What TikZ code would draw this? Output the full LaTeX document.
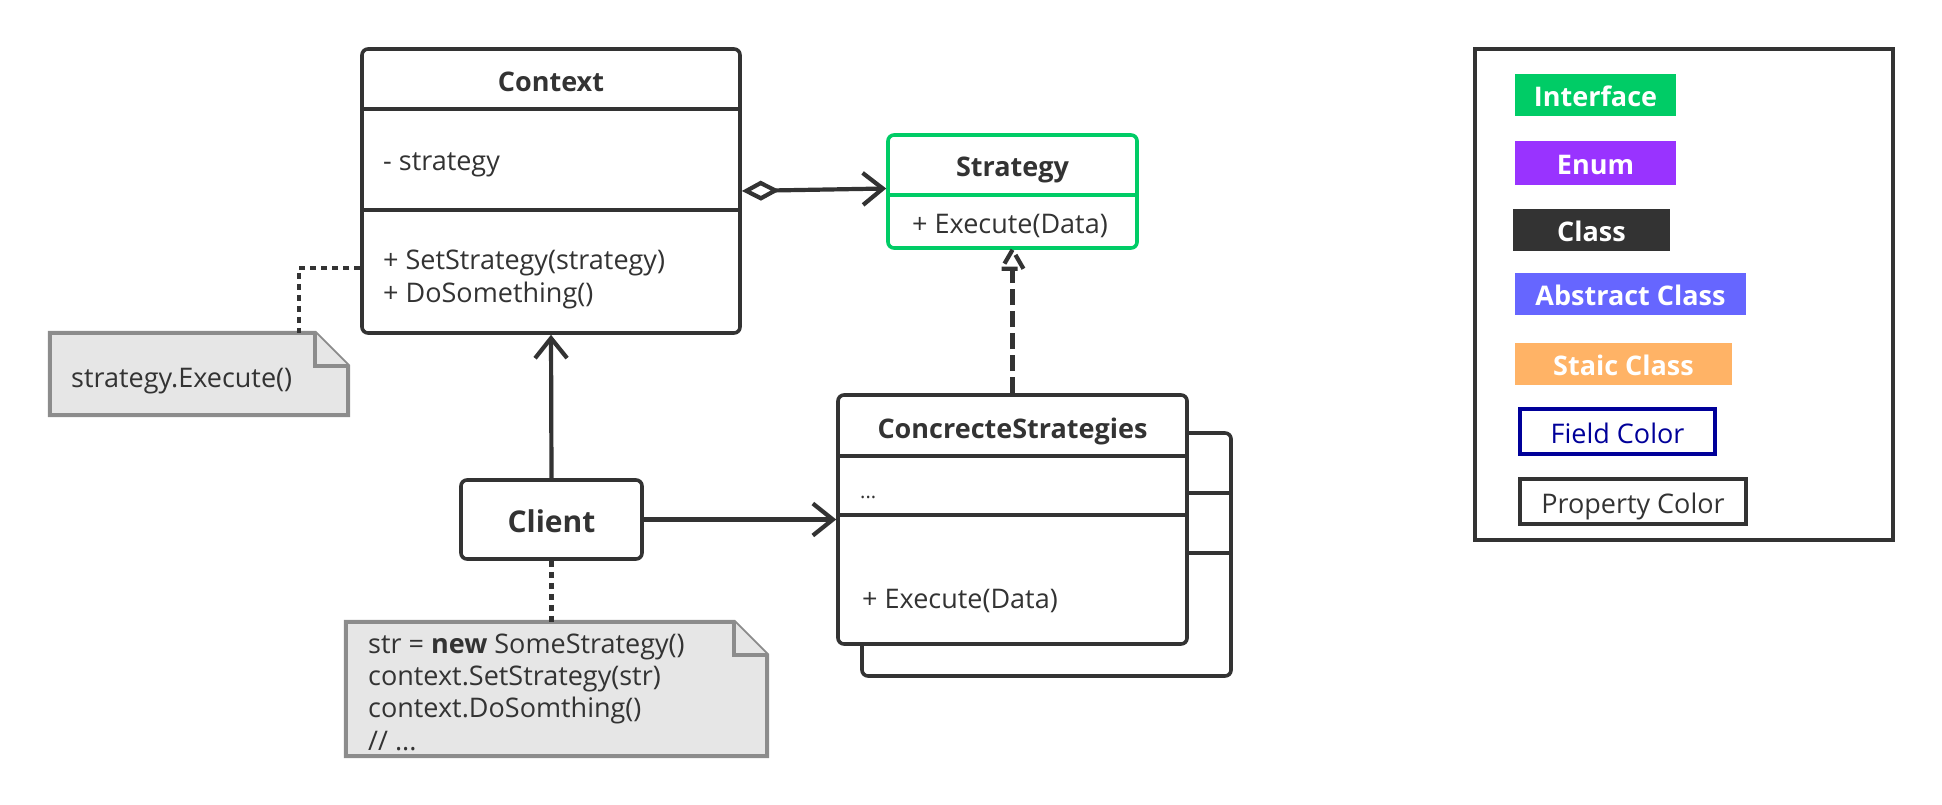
\documentclass[tikz,border=0pt]{standalone}
\usepackage{fontspec}
\setmainfont{Open Sans}
\usetikzlibrary{arrows.meta}
\definecolor{dark}{HTML}{333333}
\definecolor{ifgreen}{HTML}{00CC66}
\definecolor{enumpurple}{HTML}{9933FF}
\definecolor{abstractblue}{HTML}{6666FF}
\definecolor{staticorange}{HTML}{FFB366}
\definecolor{fieldnavy}{HTML}{000099}
\definecolor{notefill}{HTML}{E6E6E6}
\definecolor{notegray}{HTML}{8C8C8C}
\begin{document}
\begin{tikzpicture}[x=1pt,y=-1pt,
  font=\fontsize{27}{32}\selectfont,
  classbox/.style={draw=dark, line width=3.6pt, rounded corners=6pt, fill=white, inner sep=0pt},
  divider/.style={draw=dark, line width=3.6pt},
  member/.style={anchor=base west, inner sep=0pt, text=dark},
  titletext/.style={anchor=base, inner sep=0pt, text=dark, font=\fontsize{27}{32}\selectfont\bfseries},
  conn/.style={draw=dark, line width=4.2pt},
  openarrow/.style={-{Straight Barb[length=20pt,width=32pt]}},
  dashpat/.style={dash pattern=on 16pt off 6pt},
  dotpat/.style={draw=dark, line width=4.2pt, dash pattern=on 6pt off 5pt},
  notestyle/.style={draw=notegray, fill=notefill, line width=4pt, line join=miter},
  legbox/.style={inner sep=0pt, text height=23pt, text depth=0pt, text=white, font=\fontsize{27}{32}\selectfont\bfseries},
  legframe/.style={inner sep=0pt, line width=4pt, text height=23pt, text depth=0pt}
]
\useasboundingbox (0,0) rectangle (1942,805);

% ---------- Context ----------
\node[classbox, minimum width=378pt, minimum height=284pt] (Context) at (551,191) {};
\draw[divider] (Context.west |- 0,109) -- (Context.east |- 0,109);
\draw[divider] (Context.west |- 0,210) -- (Context.east |- 0,210);
\node[titletext] at (551,92) {Context};
\node[member] at (383,171) {- strategy};
\node[member] at (383,269) {+ SetStrategy(strategy)};
\node[member] at (383,302) {+ DoSomething()};

% ---------- Strategy ----------
\node[classbox, draw=ifgreen, minimum width=249pt, minimum height=113pt] (Strategy) at (1012.5,191.5) {};
\draw[divider, draw=ifgreen] (Strategy.west |- 0,195) -- (Strategy.east |- 0,195);
\node[titletext] at (1012.5,177) {Strategy};
\node[member] at (912,233) {+ Execute(Data)};

% ---------- ConcrecteStrategies ----------
\node[classbox, minimum width=369pt, minimum height=243pt] (CSback) at (1046.5,554.5) {};
\node[classbox, minimum width=349pt, minimum height=249pt] (CS) at (1012.5,519.5) {};
\draw[divider] (CS.west |- 0,456) -- (CS.east |- 0,456);
\draw[divider] (CS.west |- 0,515) -- (CS.east |- 0,515);
\draw[divider] (CS.east |- 0,493) -- (CSback.east |- 0,493);
\draw[divider] (CS.east |- 0,553) -- (CSback.east |- 0,553);
\node[titletext] at (1012.5,438) {ConcrecteStrategies};
\node[member, font=\fontsize{20}{24}\selectfont] at (860,498) {...};
\node[member] at (862,608) {+ Execute(Data)};

% ---------- Client ----------
\node[classbox, minimum width=181pt, minimum height=79pt, text=dark,
      text height=25pt, text depth=0pt, font=\fontsize{30}{36}\selectfont\bfseries] (Client) at (551.5,519.5) {Client};

% ---------- Notes ----------
\node[inner sep=0pt, minimum width=298pt, minimum height=82pt] (note1) at (199,374) {};
\draw[notestyle] (note1.north west) -- ([xshift=-33pt]note1.north east) -- ([yshift=-33pt]note1.north east)
  -- (note1.south east) -- (note1.south west) -- cycle;
\draw[notestyle] ([xshift=-33pt]note1.north east) -- ([xshift=-33pt,yshift=-33pt]note1.north east) -- ([yshift=-33pt]note1.north east);
\node[member] at (71,387) {strategy.Execute()};

\node[inner sep=0pt, minimum width=421pt, minimum height=134pt] (note2) at (556.5,689) {};
\draw[notestyle] (note2.north west) -- ([xshift=-33pt]note2.north east) -- ([yshift=-33pt]note2.north east)
  -- (note2.south east) -- (note2.south west) -- cycle;
\draw[notestyle] ([xshift=-33pt]note2.north east) -- ([xshift=-33pt,yshift=-33pt]note2.north east) -- ([yshift=-33pt]note2.north east);
\node[member] at (368,653) {str = \textbf{new} SomeStrategy()};
\node[member] at (368,685) {context.SetStrategy(str)};
\node[member] at (368,717) {context.DoSomthing()};
\node[member] at (368,750) {// ...};

% ---------- Connectors ----------
\draw[conn, {Diamond[open,length=38pt,width=20pt]}-{Straight Barb[length=20pt,width=32pt]}]
  (Context.east) -- ([yshift=3pt]Strategy.west);
\draw[conn, openarrow] (Client.north) -- (Context.south);
\draw[conn, openarrow] (Client.east) -- (Client.east -| CS.west);
\coordinate (tb) at ([yshift=-19pt]Strategy.south);
\draw[conn, dashpat] (CS.north) -- (tb);
\draw[conn, dashpat, line join=miter] (Strategy.south) -- ([xshift=-11pt]tb) -- ([xshift=11pt]tb) -- cycle;
\coordinate (k1) at (299,268);
\draw[dotpat] (k1 -| Context.west) -- (k1) -- (k1 |- note1.north);
\draw[dotpat] (Client.south) -- (Client.south |- note2.north);

% ---------- Legend ----------
\node[draw=dark, line width=4pt, inner sep=0pt, minimum width=418pt, minimum height=491pt] (legend) at (1684,294.5) {};
\node[legbox, fill=ifgreen, minimum width=161pt, minimum height=42pt] (lgI) at (1595.5,95) {Interface};
\node[legbox, fill=enumpurple, minimum width=161pt, minimum height=44pt] (lgE) at (1595.5,163) {Enum};
\node[legbox, fill=dark, minimum width=157pt, minimum height=42pt] (lgC) at (1591.5,230) {Class};
\node[legbox, fill=abstractblue, minimum width=231pt, minimum height=42pt] (lgA) at (1630.5,294) {Abstract Class};
\node[legbox, fill=staticorange, minimum width=217pt, minimum height=42pt] (lgS) at (1623.5,364) {Staic Class};
\node[legframe, draw=fieldnavy, text=fieldnavy, minimum width=195pt, minimum height=45pt] (lgF) at (1617.5,431.5) {Field Color};
\node[legframe, draw=dark, text=dark, minimum width=226pt, minimum height=45pt] (lgP) at (1633,501.5) {Property Color};
\end{tikzpicture}
\end{document}
